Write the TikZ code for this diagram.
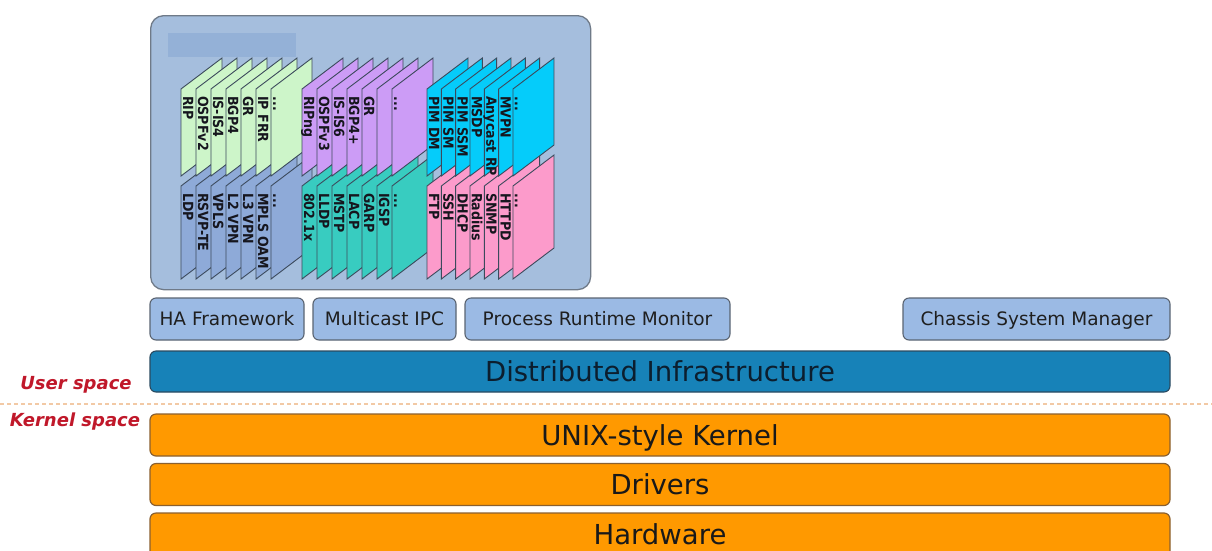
\documentclass[tikz,border=0pt]{standalone}
\usepackage{fontspec}
\setmainfont{DejaVu Sans}[BoldFont={DejaVu Sans Bold},ItalicFont={DejaVu Sans Oblique},BoldItalicFont={DejaVu Sans Bold Oblique}]
\definecolor{contfill}{HTML}{A5BEDD}
\definecolor{contline}{HTML}{6F7A88}
\definecolor{blurfill}{HTML}{94B1D7}
\definecolor{svcfill}{HTML}{9BBAE4}
\definecolor{svcline}{HTML}{5A6472}
\definecolor{infrafill}{HTML}{1782B8}
\definecolor{infraline}{HTML}{2A4A60}
\definecolor{orfill}{HTML}{FF9900}
\definecolor{orline}{HTML}{8A6030}
\definecolor{spacered}{HTML}{C0182A}
\definecolor{dashcol}{HTML}{F2C9A5}
\definecolor{cardedge}{HTML}{3C4A5C}
\definecolor{cardtxt}{HTML}{16161E}
\definecolor{cgreen}{HTML}{CDF5C9}
\definecolor{cblue}{HTML}{8EAAD8}
\definecolor{cpurple}{HTML}{CC9CF6}
\definecolor{ccyan}{HTML}{05CCFA}
\definecolor{cteal}{HTML}{38CCC0}
\definecolor{cpink}{HTML}{FC9BCB}
\newcommand{\drawcard}[6]{%
  \filldraw[cardline, fill=#4] (#1,#2) -- ++(41,-31) -- ++(0,#3) -- ++(-41,31) -- cycle;
  \node[cardtext, anchor=base west] (#6) at ({#1+2},{#2+7}) {\scalebox{0.9}[1]{#5}};
}
\newcommand{\vdotsl}{.\kern0.5pt.\kern0.5pt.}
\begin{document}
\begin{tikzpicture}[x=1pt,y=-1pt,
  container/.style={draw=contline, fill=contfill, line width=1.3pt, rounded corners=13pt, inner sep=0pt, anchor=north west},
  svc/.style={draw=svcline, fill=svcfill, line width=1.1pt, rounded corners=6pt, minimum height=42pt, inner sep=0pt, font=\fontsize{18.5}{20}\selectfont, text height=13.5pt, text depth=0pt, text=black!88},
  bigtext/.style={font=\fontsize{27.5}{30}\selectfont, text height=20pt, text depth=0pt},
  infra/.style={bigtext, draw=infraline, fill=infrafill, line width=1.1pt, rounded corners=6pt, minimum height=41pt, minimum width=1020pt, inner sep=0pt, text={rgb,255:red,12;green,30;blue,46}},
  orbox/.style={bigtext, draw=orline, fill=orfill, line width=1.2pt, rounded corners=6pt, minimum height=42pt, minimum width=1020pt, inner sep=0pt, text=black!90},
  cardline/.style={draw=cardedge, line width=0.9pt},
  cardtext/.style={rotate=-90, inner sep=0pt, font=\bfseries\fontsize{14}{15}\selectfont, text=cardtxt},
  spacelbl/.style={font=\bfseries\itshape\fontsize{18}{20}\selectfont, text=spacered, inner sep=0pt},
  divider/.style={draw=dashcol, line width=1.2pt, dash pattern=on 4pt off 3pt}
]
\useasboundingbox (0,0) rectangle (1212,550);
\clip (0,0) rectangle (1212,550);

% container
\node[container, minimum width=440pt, minimum height=274pt] (cont) at (150,15) {};
\node[fill=blurfill, minimum width=128pt, minimum height=24pt, inner sep=0pt, anchor=north west] (ttl) at (168,33) {};

% bottom row cards
\foreach \lab [count=\i from 0] in {LDP,RSVP-TE,VPLS,L2 VPN,L3 VPN,MPLS OAM,\vdotsl}
  {\drawcard{181+15*\i}{186}{93}{cblue}{\lab}{b\i}}
\foreach \lab [count=\i from 0] in {802.1x,LLDP,MSTP,LACP,GARP,IGSP,\vdotsl}
  {\drawcard{302+15*\i}{186}{93}{cteal}{\lab}{t\i}}
\foreach \lab [count=\i from 0] in {FTP,SSH,DHCP,Radius,SNMP,HTTPD,\vdotsl}
  {\drawcard{427+14.33*\i}{186}{93}{cpink}{\lab}{k\i}}

% top row cards
\foreach \lab [count=\i from 0] in {RIP,OSPFv2,IS-IS4,BGP4,GR,IP FRR,\vdotsl}
  {\drawcard{181+15*\i}{89}{87}{cgreen}{\lab}{g\i}}
\foreach \lab [count=\i from 0] in {RIPng,OSPFv3,IS-IS6,BGP4+,GR,\null,\vdotsl}
  {\drawcard{302+15*\i}{89}{87}{cpurple}{\lab}{p\i}}
\foreach \lab [count=\i from 0] in {PIM DM,PIM SM,PIM SSM,MSDP,Anycast RP,MVPN,\vdotsl}
  {\drawcard{427+14.33*\i}{89}{87}{ccyan}{\lab}{c\i}}

% services
\node[svc, minimum width=154pt] (ha) at (227,319) {HA Framework};
\node[svc, minimum width=143pt] (mipc) at (384.5,319) {Multicast IPC};
\node[svc, minimum width=265pt] (prm) at (597.5,319) {Process Runtime Monitor};
\node[svc, minimum width=267pt] (csm) at (1036.5,319) {Chassis System Manager};

% infrastructure
\node[infra] (dist) at (660,371.5) {Distributed Infrastructure};

% divider
\coordinate (dl) at (0,404);
\coordinate (dr) at (1212,404);
\draw[divider] (dl) -- (dr);
\node[spacelbl] (user) at (76,385) {User space};
\node[spacelbl] (kern) at (75,422) {Kernel space};

% kernel side
\node[orbox] (unix) at (660,435) {UNIX-style Kernel};
\node[orbox] (drv) at (660,484.5) {Drivers};
\node[orbox, minimum height=50pt] (hw) at (660,538) {};
\node[bigtext, text=black!90, inner sep=0pt] (hwt) at (660,534) {Hardware};
\end{tikzpicture}
\end{document}
